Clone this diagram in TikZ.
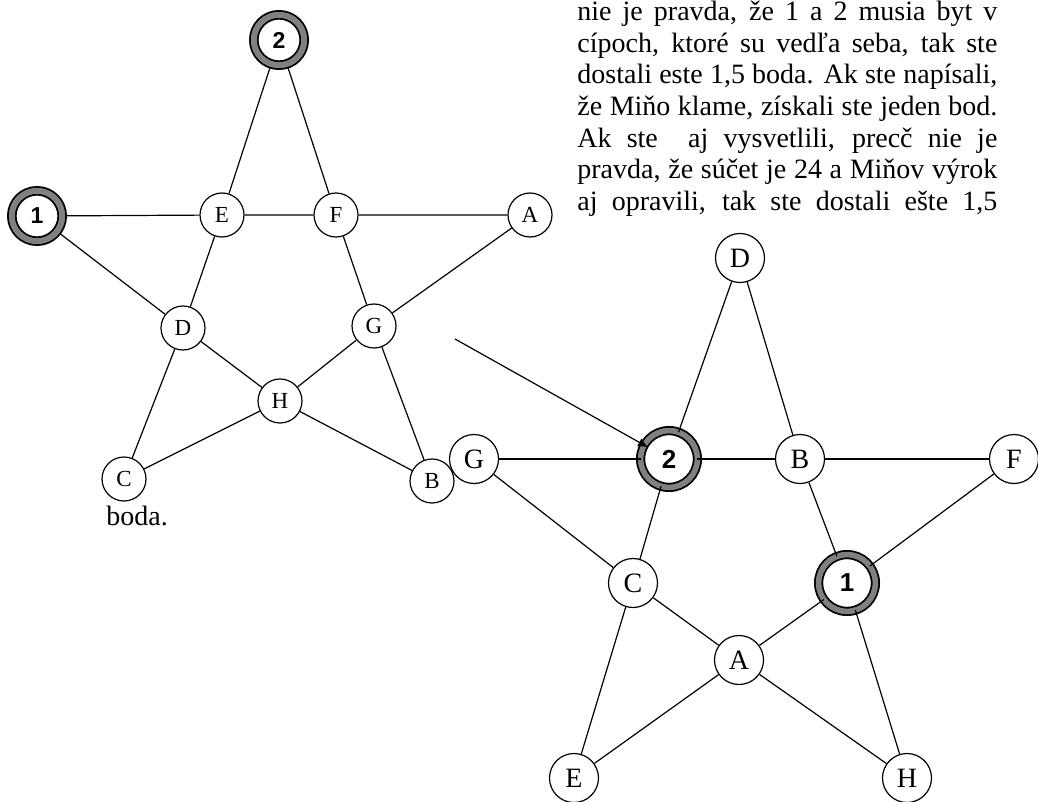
\documentclass[tikz,border=0pt]{standalone}
\usepackage{fontspec}
\setmainfont{Liberation Serif}
\newfontfamily\numfont{Liberation Sans}
\usetikzlibrary{arrows.meta,calc}
\tikzset{
  edge/.style={draw=black,line width=0.6pt},
  lnode/.style={circle,draw=black,fill=white,line width=0.6pt,minimum size=22pt,inner sep=0pt,font=\fontsize{11.5pt}{13pt}\selectfont},
  rnode/.style={circle,draw=black,fill=white,line width=0.6pt,minimum size=24.5pt,inner sep=0pt,font=\fontsize{14pt}{16pt}\selectfont},
  lnum/.style={circle,draw=black,line width=0.9pt,double=gray,double distance=3pt,fill=white,minimum size=25.2pt,inner sep=0pt,outer sep=2.2pt,font=\numfont\bfseries\fontsize{11.5pt}{13pt}\selectfont},
  rnum/.style={circle,draw=black,line width=0.9pt,double=gray,double distance=2.8pt,fill=white,minimum size=28.4pt,inner sep=0pt,outer sep=0pt,font=\numfont\bfseries\fontsize{13pt}{15pt}\selectfont},
  txt/.style={anchor=base west,inner sep=0pt,font=\fontsize{14pt}{16pt}\selectfont},
}
\newcommand{\jline}[1]{\makebox[210pt][s]{#1}}
\begin{document}
\begin{tikzpicture}[x=0.5pt,y=-0.5pt]
\useasboundingbox (0,0) rectangle (1038,802);
% left star
\node[lnum]  (l2) at (279,40) {2};
\node[lnum]  (l1) at (37,216) {1};
\node[lnode] (lE) at (222,215) {E};
\node[lnode] (lF) at (336,215) {F};
\node[lnode] (lA) at (530,215) {A};
\node[lnode] (lD) at (183,328) {D};
\node[lnode] (lG) at (374,326) {G};
\node[lnode] (lH) at (280,401) {H};
\node[lnode] (lC) at (124,479) {C};
\node[lnode] (lB) at (432,481) {B};
\draw[edge] (l1) -- (lE) -- (lF) -- (lA);
\draw[edge] (l2) -- (lE) -- (lD) -- (lC);
\draw[edge] (l2) -- (lF) -- (lG) -- (lB);
\draw[edge] (l1) -- (lD) -- (lH) -- (lB);
\draw[edge] (lA) -- (lG) -- (lH) -- (lC);
% right star
\node[rnode] (rD) at (740,258) {D};
\node[rnode] (rG) at (474,459) {G};
\node[rnum]  (r2) at (669,459) {2};
\node[rnode] (rB) at (800,459) {B};
\node[rnode] (rF) at (1014,459) {F};
\node[rnode] (rC) at (633,583) {C};
\node[rnum]  (r1) at (847,583) {1};
\node[rnode] (rA) at (739,660) {A};
\node[rnode] (rE) at (574,778) {E};
\node[rnode] (rH) at (907,778) {H};
\draw[edge] (rG) -- (r2) -- (rB) -- (rF);
\draw[edge] (rD) -- (r2) -- (rC) -- (rE);
\draw[edge] (rD) -- (rB) -- (r1) -- (rH);
\draw[edge] (rG) -- (rC) -- (rA) -- (rH);
\draw[edge] (rF) -- (r1) -- (rA) -- (rE);
% arrow
\coordinate (a0) at (455,339);
\draw[edge,-{Latex[length=5pt,width=4.5pt]},shorten >=12pt] (a0) -- (r2.center);
% text
\node[txt] (t1) at (577,20.5)  {\jline{nie je pravda, že 1 a 2 musia byt v}};
\node[txt] (t2) at (577,52.2)  {\jline{cípoch, ktoré su vedľa seba, tak ste}};
\node[txt] (t3) at (577,83.9)  {\jline{dostali este 1,5 boda. Ak ste napísali,}};
\node[txt] (t4) at (577,115.6) {\jline{že Miňo klame, získali ste jeden bod.}};
\node[txt] (t5) at (577,147.3) {\jline{Ak ste\ \ aj vysvetlili, precč nie je}};
\node[txt] (t6) at (577,179)   {\jline{pravda, že súčet je 24 a Miňov výrok}};
\node[txt] (t7) at (577,210.7) {\jline{aj opravili, tak ste dostali ešte 1,5}};
\node[txt] (t8) at (106,525)   {boda.};
\end{tikzpicture}
\end{document}
